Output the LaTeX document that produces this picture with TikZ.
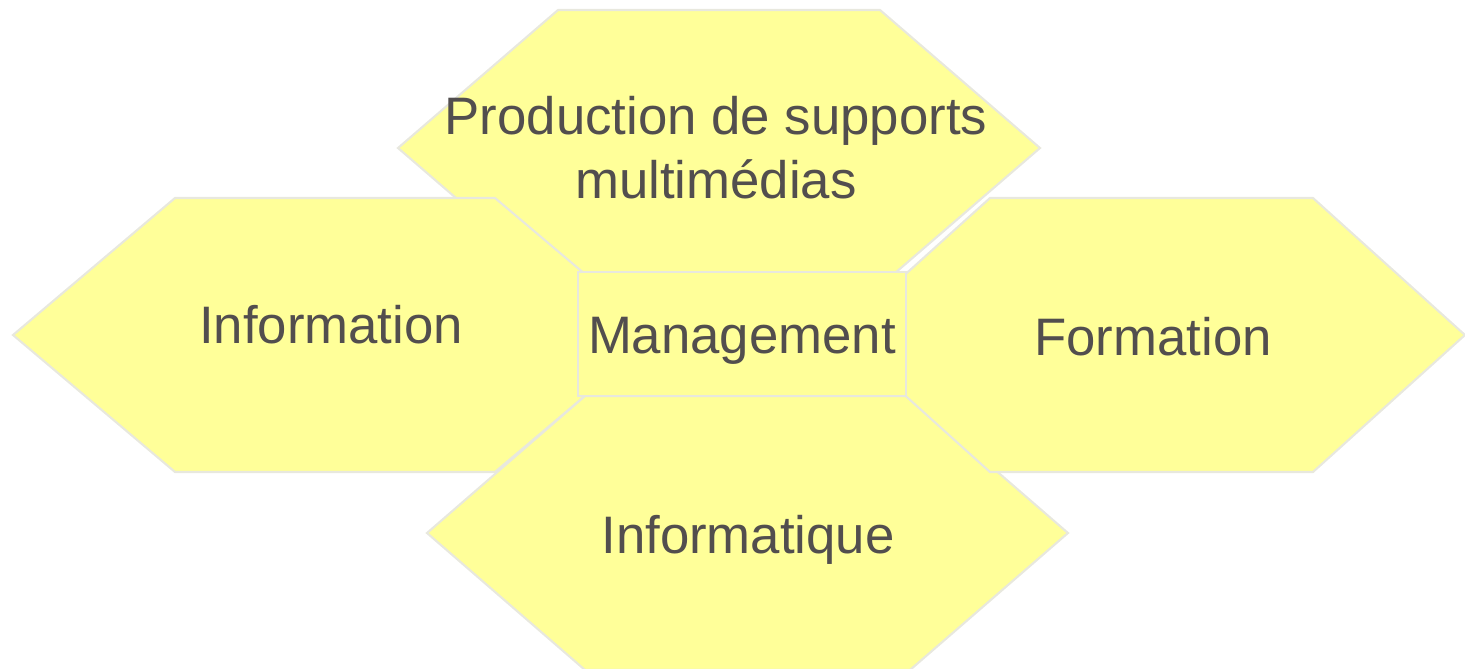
\documentclass[tikz,border=0pt]{standalone}
\usepackage{fontspec}
\setmainfont{Liberation Sans}
\definecolor{fillc}{HTML}{FFFF99}
\definecolor{edge}{HTML}{E8E8DE}
\definecolor{ink}{HTML}{524E4E}
\tikzset{
  hexa/.style={fill=fillc, draw=edge, line width=0.6pt, line join=miter},
  box/.style={fill=fillc, draw=edge, line width=0.6pt},
  lab/.style={text=ink, font=\fontsize{15}{18}\selectfont, inner sep=0pt, anchor=base, align=center},
}

\begin{document}
\begin{tikzpicture}[x=0.01cm, y=-0.01cm]
  \useasboundingbox (0,0) rectangle (1465,669);

  % hexagons, back to front
  \draw[hexa] (398,148) -- (558,10) -- (880,10) -- (1040,148) -- (880,286) -- (558,286) -- cycle;
  \draw[hexa] (13,335) -- (175,198) -- (495,198) -- (657,335) -- (495,472) -- (175,472) -- cycle;
  \draw[hexa] (427,533) -- (585,396) -- (910,396) -- (1068,533) -- (910,670) -- (585,670) -- cycle;
  \draw[hexa] (838,335) -- (990,198) -- (1313,198) -- (1465,335) -- (1313,472) -- (990,472) -- cycle;
  \draw[box] (578,272) rectangle (906,396);

  \node[lab] (prod) at (716,198) {Production de supports\\multimédias};
  \node[lab] (info) at (331,343) {Information};
  \node[lab] (mgmt) at (742,353) {Management};
  \node[lab] (form) at (1153,355) {Formation};
  \node[lab] (infq) at (748,553) {Informatique};
\end{tikzpicture}
\end{document}
